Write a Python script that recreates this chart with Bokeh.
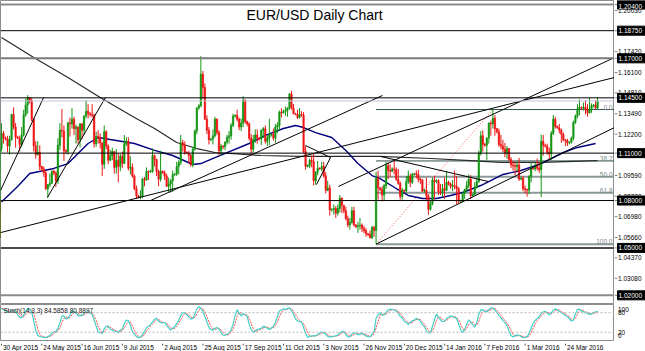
import numpy as np
from bokeh.plotting import figure
from bokeh.layouts import column, row
from bokeh.models import Range1d, ColumnDataSource, Label, LabelSet, Span
from bokeh.embed import file_html
from bokeh.resources import INLINE
from bokeh.core.properties import value

# ---------------- data (daily bars, index 0 = 30 Apr 2015, Sunday bars included) ----------------
FIRST_BAR = -18

opens = [
    1.0780, 1.0660, 1.0600, 1.0595, 1.0565, 1.0570, 1.0685, 1.0760, 1.0805, 1.0780, 1.0735, 1.0745, 1.0730, 1.0825, 1.0870, 1.0875, 1.0885, 1.0975,
    1.1130, 1.1225, 1.1195, 1.1190, 1.1145, 1.1185, 1.1345, 1.1265, 1.1200, 1.1195,
    1.1155, 1.1215, 1.1345, 1.1405, 1.1450, 1.1430, 1.1315, 1.1145, 1.1090, 1.1105,
    1.1015, 1.1000, 1.0975, 1.0875, 1.0900, 1.0910, 1.0985, 1.0975, 1.0925, 1.1150,
    1.1245, 1.1240, 1.1115, 1.1110, 1.1290, 1.1285, 1.1315, 1.1255, 1.1265, 1.1185,
    1.1285, 1.1245, 1.1335, 1.1365, 1.1350, 1.1345, 1.1340, 1.1160, 1.1205, 1.1200,
    1.1165, 1.1030, 1.1235, 1.1145, 1.1055, 1.1085, 1.1110, 1.1010, 1.1055, 1.1015,
    1.1080, 1.1035, 1.1160, 1.1175, 1.1005, 1.1010, 1.0955, 1.0875, 1.0830, 1.0822,
    1.0825, 1.0935, 1.0930, 1.0985, 1.0980, 1.0985, 1.1085, 1.1060, 1.0985, 1.0935,
    1.0985, 1.0975, 1.0955, 1.0890, 1.0905, 1.0925, 1.0965, 1.0968, 1.1015, 1.1040,
    1.1165, 1.1150, 1.1105, 1.1100, 1.1085, 1.1025, 1.1125, 1.1240, 1.1385, 1.1400,
    1.1600, 1.1515, 1.1315, 1.1245, 1.1185, 1.1190, 1.1210, 1.1315, 1.1230, 1.1115,
    1.1145, 1.1140, 1.1170, 1.1200, 1.1210, 1.1275, 1.1335, 1.1340, 1.1315, 1.1265,
    1.1290, 1.1435, 1.1300, 1.1285, 1.1195, 1.1125, 1.1185, 1.1215, 1.1195, 1.1190,
    1.1245, 1.1255, 1.1175, 1.1195, 1.1215, 1.1220, 1.1195, 1.1265, 1.1275, 1.1360,
    1.1355, 1.1365, 1.1370, 1.1385, 1.1475, 1.1385, 1.1350, 1.1345, 1.1325, 1.1345,
    1.1340, 1.1110, 1.1015, 1.1020, 1.1055, 1.1045, 1.0925, 1.0980, 1.1005, 1.1000,
    1.1015, 1.0955, 1.0865, 1.0880, 1.0740, 1.0745, 1.0750, 1.0720, 1.0750, 1.0815,
    1.0770, 1.0735, 1.0685, 1.0645, 1.0660, 1.0735, 1.0645, 1.0635, 1.0640, 1.0645,
    1.0625, 1.0610, 1.0590, 1.0585, 1.0565, 1.0630, 1.0610, 1.0940, 1.0880, 1.0870,
    1.0835, 1.0895, 1.1020, 1.0990, 1.0985, 1.1000, 1.0995, 1.0935, 1.0910, 1.0825,
    1.0865, 1.0860, 1.0920, 1.0955, 1.0915, 1.0965, 1.0970, 1.0965, 1.0935, 1.0930,
    1.0860, 1.0865, 1.0830, 1.0745, 1.0780, 1.0930, 1.0920, 1.0925, 1.0855, 1.0850,
    1.0875, 1.0865, 1.0915, 1.0905, 1.0890, 1.0895, 1.0890, 1.0875, 1.0795, 1.0800,
    1.0845, 1.0870, 1.0895, 1.0935, 1.0830, 1.0840, 1.0885, 1.0920, 1.1100, 1.1210,
    1.1155, 1.1150, 1.1195, 1.1290, 1.1285, 1.1320, 1.1255, 1.1235, 1.1155, 1.1145,
    1.1125, 1.1100, 1.1130, 1.1060, 1.1025, 1.1020, 1.1015, 1.1025, 1.0935, 1.0940,
    1.0875, 1.0870, 1.0865, 1.0955, 1.1005, 1.1000, 1.1015, 1.1005, 1.0995, 1.1175,
    1.1150, 1.1145, 1.1105, 1.1095, 1.1225, 1.1315, 1.1270, 1.1260, 1.1245, 1.1220,
    1.1185, 1.1180, 1.1165, 1.1170, 1.1195, 1.1295, 1.1335, 1.1380, 1.1390, 1.1385,
    1.1390, 1.1375, 1.1355, 1.1375, 1.1400, 1.1405, 1.1385,
]

highs = [
    1.0790, 1.0665, 1.0610, 1.0605, 1.0660, 1.0695, 1.0770, 1.0850, 1.0810, 1.0790, 1.0800, 1.0770, 1.0850, 1.0875, 1.0880, 1.0900, 1.0990, 1.1195,
    1.1290, 1.1240, 1.1205, 1.1210, 1.1210, 1.1350, 1.1390, 1.1290, 1.1210, 1.1210,
    1.1265, 1.1375, 1.1445, 1.1467, 1.1455, 1.1450, 1.1320, 1.1175, 1.1175, 1.1150,
    1.1020, 1.1015, 1.0990, 1.0905, 1.0970, 1.0990, 1.0995, 1.0985, 1.1195, 1.1290,
    1.1380, 1.1275, 1.1125, 1.1300, 1.1325, 1.1385, 1.1330, 1.1280, 1.1270, 1.1290,
    1.1290, 1.1340, 1.1436, 1.1410, 1.1360, 1.1410, 1.1350, 1.1235, 1.1245, 1.1225,
    1.1165, 1.1275, 1.1245, 1.1155, 1.1120, 1.1135, 1.1110, 1.1125, 1.1100, 1.1095,
    1.1110, 1.1215, 1.1200, 1.1200, 1.1080, 1.1035, 1.0965, 1.0895, 1.0835, 1.0865,
    1.0945, 1.0950, 1.1010, 1.0990, 1.0995, 1.1130, 1.1090, 1.1065, 1.0995, 1.1115,
    1.0990, 1.0990, 1.0970, 1.0945, 1.0935, 1.0990, 1.0975, 1.1045, 1.1055, 1.1215,
    1.1185, 1.1175, 1.1110, 1.1115, 1.1095, 1.1140, 1.1250, 1.1390, 1.1410, 1.1714,
    1.1620, 1.1540, 1.1340, 1.1265, 1.1195, 1.1250, 1.1330, 1.1320, 1.1245, 1.1160,
    1.1150, 1.1175, 1.1215, 1.1240, 1.1290, 1.1350, 1.1345, 1.1375, 1.1325, 1.1320,
    1.1460, 1.1440, 1.1305, 1.1295, 1.1220, 1.1215, 1.1250, 1.1250, 1.1200, 1.1250,
    1.1265, 1.1275, 1.1215, 1.1318, 1.1225, 1.1255, 1.1285, 1.1295, 1.1370, 1.1385,
    1.1375, 1.1395, 1.1390, 1.1480, 1.1495, 1.1410, 1.1355, 1.1375, 1.1385, 1.1365,
    1.1360, 1.1145, 1.1030, 1.1065, 1.1085, 1.1095, 1.0985, 1.1050, 1.1010, 1.1045,
    1.1045, 1.0980, 1.0925, 1.0900, 1.0750, 1.0775, 1.0765, 1.0775, 1.0835, 1.0820,
    1.0770, 1.0760, 1.0705, 1.0690, 1.0760, 1.0760, 1.0650, 1.0665, 1.0690, 1.0655,
    1.0640, 1.0625, 1.0595, 1.0610, 1.0640, 1.0640, 1.0981, 1.0990, 1.0885, 1.0890,
    1.0905, 1.1045, 1.1040, 1.1030, 1.1010, 1.1060, 1.1010, 1.1000, 1.0920, 1.0880,
    1.0870, 1.0955, 1.0990, 1.0970, 1.0975, 1.0975, 1.0990, 1.0995, 1.0945, 1.0935,
    1.0875, 1.0945, 1.0840, 1.0800, 1.0945, 1.0955, 1.0935, 1.0935, 1.0905, 1.0905,
    1.0945, 1.0985, 1.0925, 1.0915, 1.0930, 1.0990, 1.0955, 1.0885, 1.0805, 1.0855,
    1.0875, 1.0925, 1.0965, 1.0960, 1.0845, 1.0915, 1.0945, 1.1115, 1.1240, 1.1245,
    1.1165, 1.1200, 1.1295, 1.1305, 1.1376, 1.1340, 1.1260, 1.1255, 1.1215, 1.1185,
    1.1165, 1.1145, 1.1130, 1.1075, 1.1050, 1.1045, 1.1045, 1.1070, 1.0950, 1.0955,
    1.0895, 1.0875, 1.0960, 1.1040, 1.1010, 1.1040, 1.1065, 1.1045, 1.1218, 1.1215,
    1.1160, 1.1160, 1.1135, 1.1240, 1.1342, 1.1330, 1.1275, 1.1285, 1.1255, 1.1230,
    1.1190, 1.1190, 1.1175, 1.1205, 1.1305, 1.1345, 1.1410, 1.1440, 1.1395, 1.1420,
    1.1435, 1.1410, 1.1450, 1.1415, 1.1410, 1.1435, 1.1455,
]

lows = [
    1.0640, 1.0570, 1.0585, 1.0520, 1.0535, 1.0545, 1.0660, 1.0730, 1.0770, 1.0705, 1.0705, 1.0665, 1.0720, 1.0805, 1.0860, 1.0825, 1.0865, 1.0960,
    1.1110, 1.1160, 1.1180, 1.1105, 1.1090, 1.1180, 1.1250, 1.1135, 1.1190, 1.1110,
    1.1140, 1.1205, 1.1330, 1.1350, 1.1415, 1.1300, 1.1110, 1.1065, 1.1085, 1.0990,
    1.0985, 1.0950, 1.0865, 1.0819, 1.0885, 1.0905, 1.0960, 1.0885, 1.0905, 1.1120,
    1.1200, 1.1050, 1.1095, 1.1090, 1.1205, 1.1255, 1.1215, 1.1160, 1.1160, 1.1135,
    1.1190, 1.1215, 1.1320, 1.1320, 1.1330, 1.1325, 1.1135, 1.1140, 1.1160, 1.1130,
    1.0955, 1.1000, 1.1125, 1.1030, 1.1050, 1.1055, 1.0970, 1.0970, 1.0915, 1.0985,
    1.1005, 1.1030, 1.1145, 1.0990, 1.0965, 1.0945, 1.0865, 1.0810, 1.0815, 1.0808,
    1.0815, 1.0890, 1.0925, 1.0930, 1.0975, 1.0975, 1.1015, 1.0955, 1.0890, 1.0920,
    1.0970, 1.0930, 1.0885, 1.0850, 1.0850, 1.0855, 1.0955, 1.0955, 1.0965, 1.1025,
    1.1110, 1.1090, 1.1095, 1.1040, 1.1015, 1.1010, 1.1115, 1.1220, 1.1375, 1.1390,
    1.1445, 1.1310, 1.1220, 1.1155, 1.1175, 1.1155, 1.1200, 1.1215, 1.1085, 1.1085,
    1.1125, 1.1120, 1.1155, 1.1160, 1.1185, 1.1265, 1.1325, 1.1300, 1.1245, 1.1240,
    1.1265, 1.1285, 1.1270, 1.1180, 1.1090, 1.1105, 1.1165, 1.1160, 1.1180, 1.1150,
    1.1195, 1.1160, 1.1145, 1.1150, 1.1205, 1.1180, 1.1165, 1.1225, 1.1245, 1.1325,
    1.1350, 1.1335, 1.1330, 1.1375, 1.1375, 1.1345, 1.1340, 1.1315, 1.1320, 1.1330,
    1.1100, 1.0995, 1.1010, 1.1005, 1.1010, 1.0895, 1.0900, 1.0960, 1.0995, 1.0985,
    1.0945, 1.0845, 1.0860, 1.0705, 1.0730, 1.0710, 1.0690, 1.0705, 1.0725, 1.0720,
    1.0720, 1.0675, 1.0630, 1.0615, 1.0655, 1.0635, 1.0625, 1.0595, 1.0615, 1.0600,
    1.0595, 1.0570, 1.0575, 1.0560, 1.0555, 1.0570, 1.0524, 1.0805, 1.0860, 1.0795,
    1.0800, 1.0875, 1.0935, 1.0950, 1.0980, 1.0965, 1.0925, 1.0900, 1.0805, 1.0805,
    1.0850, 1.0850, 1.0905, 1.0885, 1.0905, 1.0960, 1.0940, 1.0915, 1.0905, 1.0855,
    1.0850, 1.0800, 1.0710, 1.0735, 1.0770, 1.0805, 1.0910, 1.0835, 1.0835, 1.0825,
    1.0810, 1.0860, 1.0895, 1.0875, 1.0860, 1.0870, 1.0775, 1.0780, 1.0785, 1.0790,
    1.0810, 1.0855, 1.0880, 1.0810, 1.0825, 1.0835, 1.0875, 1.0910, 1.1085, 1.1110,
    1.1140, 1.1055, 1.1160, 1.1210, 1.1255, 1.1210, 1.1225, 1.1140, 1.1125, 1.1105,
    1.1075, 1.1065, 1.1050, 1.1005, 1.0990, 1.0960, 1.0985, 1.0925, 1.0930, 1.0860,
    1.0845, 1.0825, 1.0840, 1.0915, 1.0995, 1.0985, 1.0990, 1.0975, 1.0822, 1.1085,
    1.1135, 1.1090, 1.1055, 1.1055, 1.1215, 1.1255, 1.1255, 1.1225, 1.1165, 1.1175,
    1.1145, 1.1145, 1.1155, 1.1160, 1.1180, 1.1285, 1.1320, 1.1340, 1.1375, 1.1370,
    1.1345, 1.1330, 1.1350, 1.1355, 1.1390, 1.1380, 1.1375,
]

closes = [
    1.0660, 1.0600, 1.0595, 1.0565, 1.0570, 1.0685, 1.0760, 1.0805, 1.0780, 1.0735, 1.0745, 1.0730, 1.0825, 1.0870, 1.0875, 1.0885, 1.0975, 1.1130,
    1.1225, 1.1195, 1.1190, 1.1145, 1.1185, 1.1345, 1.1265, 1.1200, 1.1195, 1.1155,
    1.1215, 1.1345, 1.1405, 1.1450, 1.1430, 1.1315, 1.1145, 1.1090, 1.1105, 1.1015,
    1.1000, 1.0975, 1.0875, 1.0900, 1.0910, 1.0985, 1.0975, 1.0925, 1.1150, 1.1245,
    1.1240, 1.1115, 1.1110, 1.1290, 1.1285, 1.1315, 1.1255, 1.1265, 1.1185, 1.1285,
    1.1245, 1.1335, 1.1365, 1.1350, 1.1345, 1.1340, 1.1160, 1.1205, 1.1200, 1.1165,
    1.1030, 1.1235, 1.1145, 1.1055, 1.1085, 1.1110, 1.1010, 1.1055, 1.1015, 1.1080,
    1.1035, 1.1160, 1.1175, 1.1005, 1.1010, 1.0955, 1.0875, 1.0830, 1.0822, 1.0825,
    1.0935, 1.0930, 1.0985, 1.0980, 1.0985, 1.1085, 1.1060, 1.0985, 1.0935, 1.0985,
    1.0975, 1.0955, 1.0890, 1.0905, 1.0925, 1.0965, 1.0968, 1.1015, 1.1040, 1.1165,
    1.1150, 1.1105, 1.1100, 1.1085, 1.1025, 1.1125, 1.1240, 1.1385, 1.1400, 1.1600,
    1.1515, 1.1315, 1.1245, 1.1185, 1.1190, 1.1210, 1.1315, 1.1230, 1.1115, 1.1145,
    1.1140, 1.1170, 1.1200, 1.1210, 1.1275, 1.1335, 1.1340, 1.1315, 1.1265, 1.1290,
    1.1435, 1.1300, 1.1285, 1.1195, 1.1125, 1.1185, 1.1215, 1.1195, 1.1190, 1.1245,
    1.1255, 1.1175, 1.1195, 1.1215, 1.1220, 1.1195, 1.1265, 1.1275, 1.1360, 1.1355,
    1.1365, 1.1370, 1.1385, 1.1475, 1.1385, 1.1350, 1.1345, 1.1325, 1.1345, 1.1340,
    1.1110, 1.1015, 1.1020, 1.1055, 1.1045, 1.0925, 1.0980, 1.1005, 1.1000, 1.1015,
    1.0955, 1.0865, 1.0880, 1.0740, 1.0745, 1.0750, 1.0720, 1.0750, 1.0815, 1.0770,
    1.0735, 1.0685, 1.0645, 1.0660, 1.0735, 1.0645, 1.0635, 1.0640, 1.0645, 1.0625,
    1.0610, 1.0590, 1.0585, 1.0565, 1.0630, 1.0610, 1.0940, 1.0880, 1.0870, 1.0835,
    1.0895, 1.1020, 1.0990, 1.0985, 1.1000, 1.0995, 1.0935, 1.0910, 1.0825, 1.0865,
    1.0860, 1.0920, 1.0955, 1.0915, 1.0965, 1.0970, 1.0965, 1.0935, 1.0930, 1.0860,
    1.0865, 1.0830, 1.0745, 1.0780, 1.0930, 1.0920, 1.0925, 1.0855, 1.0850, 1.0875,
    1.0865, 1.0915, 1.0905, 1.0890, 1.0895, 1.0890, 1.0875, 1.0795, 1.0800, 1.0845,
    1.0870, 1.0895, 1.0935, 1.0830, 1.0840, 1.0885, 1.0920, 1.1100, 1.1210, 1.1155,
    1.1150, 1.1195, 1.1290, 1.1285, 1.1320, 1.1255, 1.1235, 1.1155, 1.1145, 1.1125,
    1.1100, 1.1130, 1.1060, 1.1025, 1.1020, 1.1015, 1.1025, 1.0935, 1.0940, 1.0875,
    1.0870, 1.0865, 1.0955, 1.1005, 1.1000, 1.1015, 1.1005, 1.0995, 1.1175, 1.1150,
    1.1145, 1.1105, 1.1095, 1.1225, 1.1315, 1.1270, 1.1260, 1.1245, 1.1220, 1.1185,
    1.1180, 1.1165, 1.1170, 1.1195, 1.1295, 1.1335, 1.1380, 1.1390, 1.1385, 1.1390,
    1.1375, 1.1355, 1.1375, 1.1400, 1.1405, 1.1385, 1.1430,
]

date_label_bars = [0, 20, 40, 60, 80, 100, 120, 140, 160, 180, 200, 220, 240, 260, 280]
date_labels = ["30 Apr 2015", "24 May 2015", "16 Jun 2015", "9 Jul 2015", "2 Aug 2015",
               "25 Aug 2015", "17 Sep 2015", "11 Oct 2015", "3 Nov 2015", "26 Nov 2015",
               "20 Dec 2015", "14 Jan 2016", "7 Feb 2016", "1 Mar 2016", "24 Mar 2016"]

price_ticks = [1.2003, 1.1742, 1.1610, 1.1481, 1.1349, 1.1220, 1.0959, 1.0827,
               1.0698, 1.0566, 1.0437, 1.0308]
level_prices = [1.2040, 1.1875, 1.1700, 1.1450, 1.1100, 1.0800, 1.0500, 1.0200]

ma50_bars = [0, 8, 14, 26, 33, 43, 48, 54, 66, 76, 85, 95, 99, 106, 123, 131, 140, 146, 150,
             156, 164, 171, 177, 184, 188, 196, 202, 209, 216, 223, 229, 238, 249, 258, 268,
             279, 286, 295]
ma50_vals = [1.0790, 1.0889, 1.0971, 1.1003, 1.1034, 1.1161, 1.1199, 1.1186, 1.1161, 1.1117,
             1.1085, 1.1028, 1.1034, 1.1072, 1.1161, 1.1212, 1.1256, 1.1275, 1.1262, 1.1230,
             1.1199, 1.1117, 1.1034, 1.0958, 1.0939, 1.0876, 1.0832, 1.0813, 1.0813, 1.0832,
             1.0851, 1.0895, 1.0965, 1.0990, 1.1034, 1.1104, 1.1136, 1.1161]

ma200_bars = [0, 16, 33, 49, 66, 76, 87, 97, 106, 129, 149, 168, 188, 213, 233, 248, 268, 296]
ma200_vals = [1.1832, 1.1705, 1.1579, 1.1452, 1.1325, 1.1256, 1.1167, 1.1129, 1.1104, 1.1085,
              1.1079, 1.1079, 1.1079, 1.1066, 1.1053, 1.1041, 1.1041, 1.1053]

trend_bar0 = [-0.5, 22.8, -0.5, 74.0, 167.3, 186.0, 188.2, 151.0, 156.4]
trend_price0 = [1.0863, 1.0819, 1.0597, 1.0800, 1.0889, 1.0524, 1.1079, 1.1148, 1.0901]
trend_bar1 = [20.9, 51.6, 304.4, 189.2, 304.4, 304.4, 241.8, 163.4, 163.4]
trend_price1 = [1.1452, 1.1452, 1.1579, 1.1465, 1.1705, 1.1262, 1.0920, 1.1072, 1.1072]

fib_bar0, fib_bar1 = 186, 244
fib_low, fib_high = 1.0524, 1.1376
fib_levels = [0.0, 38.2, 50.0, 61.8, 100.0]

stoch_levels = [80, 20]
stoch_axis_values = [100, 80, 20, 0]
stoch_text = "Stoch(14,3,3) 84.5858 80.8897"
title_text = "EUR/USD Daily Chart"

# ---------------- derived ----------------
n = len(closes)
assert len(opens) == n and len(highs) == n and len(lows) == n, (len(opens), len(highs), len(lows), n)
bars = np.arange(n) + FIRST_BAR
o = np.array(opens); h = np.array(highs); l = np.array(lows); c = np.array(closes)
UP, DN = "#139613", "#ee1515"
cols = np.where(c >= o, UP, DN)
src = ColumnDataSource(dict(x=bars, h=h, l=l, top=np.maximum(o, c), bot=np.minimum(o, c), col=cols))

FONT = "Liberation Sans"
FS = "6.5px"
xr = Range1d(-0.5, 304.4)
yr = Range1d(1.0142, 1.2066)


def bare(fig):
    fig.xgrid.grid_line_color = None
    fig.ygrid.grid_line_color = None
    fig.border_fill_color = "white"
    fig.background_fill_color = "white"
    return fig


common = dict(output_backend="svg", toolbar_location=None, x_axis_location=None,
              y_axis_location=None, min_border_left=0, min_border_right=0,
              min_border_top=0, min_border_bottom=0)

# ---------------- main price panel ----------------
p = bare(figure(width=614, height=304, x_range=xr, y_range=yr, **common))
p.outline_line_color = "#8c8c8c"

level_colors = ["#8a8a8a", "#000000", "#7a7a7a", "#000000", "#000000", "#000000", "#4a4a4a", "#8a8a8a"]
level_widths = [2, 1, 2, 1, 1, 1, 2, 2]
for v, lc, lw in zip(level_prices, level_colors, level_widths):
    p.add_layout(Span(location=v, dimension="width", line_color=lc, line_width=lw))
p.add_layout(Span(location=closes[-1], dimension="width", line_color="#c4c4dc", line_width=1))

fib_prices = [fib_high - lv / 100.0 * (fib_high - fib_low) for lv in fib_levels]
fib_colors = ["#2f4f4f", "#2f4f4f", "#8c9898", "#8c9898", "#8c9898"]
fib_widths = [1, 1, 2, 2, 2]
p.ray(x=[fib_bar0] * len(fib_prices), y=fib_prices, length=0, angle=0,
      line_color=fib_colors, line_width=fib_widths)
p.line([fib_bar0, fib_bar1], [fib_low, fib_high], line_color="#ff5050", line_dash="1 2", line_width=1)
fib_src = ColumnDataSource(dict(y=fib_prices, text=["%.1f" % lv for lv in fib_levels]))
p.add_layout(LabelSet(x=612, y="y", x_units="screen", text="text", source=fib_src,
                      text_align="right", text_baseline="bottom",
                      text_font=value(FONT), text_font_size=FS, text_color="#7a8a8a"))

p.line(ma200_bars, ma200_vals, line_color="#2a2a2a", line_width=1.2)
p.line(ma50_bars, ma50_vals, line_color="#000080", line_width=1.4)

p.segment(x0="x", y0="l", x1="x", y1="h", line_color="col", line_width=1, source=src)
p.vbar(x="x", top="top", bottom="bot", width=0.7, fill_color="col", line_color="col",
       line_width=0.6, source=src)

p.segment(x0=trend_bar0, y0=trend_price0, x1=trend_bar1, y1=trend_price1,
          line_color="black", line_width=1)

p.add_layout(Label(x=314, y=298, x_units="screen", y_units="screen", text=title_text,
                   text_align="center", text_baseline="top", text_font=FONT,
                   text_font_size="14px", text_color="black"))

# ---------------- price scale (right strip) ----------------
pa = bare(figure(width=31, height=304, x_range=Range1d(0, 31), y_range=yr, **common))
pa.outline_line_color = None
all_ticks = price_ticks + level_prices
pa.segment(x0=[0] * len(all_ticks), y0=all_ticks, x1=[3] * len(all_ticks), y1=all_ticks,
           line_color="#808080", line_width=1)
pa.text(x=[3.5] * len(price_ticks), y=price_ticks, text=["%.5f" % v for v in price_ticks],
        text_font=value(FONT), text_font_size=FS, text_baseline="middle", text_align="left",
        text_color="black")
pa.rect(x=[17] * len(level_prices), y=level_prices, width=28, height=9,
        width_units="screen", height_units="screen", fill_color="black", line_color="black")
level_text_offsets = [1.5, 0, 0, 0, 0, 0, 0, 0]
pa.text(x=[4] * len(level_prices), y=level_prices, text=["%.5f" % v for v in level_prices],
        y_offset=level_text_offsets,
        text_font=value(FONT), text_font_size=FS, text_baseline="middle", text_align="left",
        text_color="white")

# ---------------- stochastic (14,3,3) ----------------
ll = np.array([l[max(0, i - 13):i + 1].min() for i in range(n)])
hh = np.array([h[max(0, i - 13):i + 1].max() for i in range(n)])
k = np.full(n, np.nan)
for i in range(15, n):
    k[i] = 100.0 * (c[i - 2:i + 1] - ll[i - 2:i + 1]).sum() / (hh[i - 2:i + 1] - ll[i - 2:i + 1]).sum()
d = np.full(n, np.nan)
for i in range(17, n):
    d[i] = k[i - 2:i + 1].mean()
vis = bars >= -1

syr = Range1d(-8.4, 105.3)
p2 = bare(figure(width=614, height=37, x_range=xr, y_range=syr, **common))
p2.outline_line_color = "#8c8c8c"
for lv in stoch_levels:
    p2.add_layout(Span(location=lv, dimension="width", line_color="#b4b4b4", line_dash="2 2", line_width=1))
p2.line(bars[vis], d[vis], line_color="#ff4a4a", line_dash="2 1", line_width=1)
p2.line(bars[vis], k[vis], line_color="#40d0c8", line_width=1.2)
p2.add_layout(Label(x=3, y=35, x_units="screen", y_units="screen", text=stoch_text,
                    text_baseline="top", text_font=FONT, text_font_size=FS, text_color="#202020"))

p2a = bare(figure(width=31, height=37, x_range=Range1d(0, 31), y_range=syr, **common))
p2a.outline_line_color = None
stoch_text_offsets = [3, 0, 0, -3]
p2a.text(x=[3.5] * len(stoch_axis_values), y=stoch_axis_values, y_offset=stoch_text_offsets,
         text=[str(v) for v in stoch_axis_values], text_font=value(FONT), text_font_size=FS,
         text_baseline="middle", text_align="left", text_color="black")

# ---------------- date strip ----------------
p3 = bare(figure(width=645, height=10, x_range=Range1d(-0.5, 319.75), y_range=Range1d(0, 10), **common))
p3.outline_line_color = None
p3.segment(x0=date_label_bars, y0=[10] * len(date_label_bars), x1=date_label_bars,
           y1=[8] * len(date_label_bars), line_color="#505050", line_width=1)
p3.text(x=date_label_bars, y=[9.6] * len(date_label_bars), text=date_labels, x_offset=1.5,
        text_font=value(FONT), text_font_size=FS, text_baseline="top", text_align="left",
        text_color="black")

layout = column(row(p, pa, spacing=0), row(p2, p2a, spacing=0), p3, spacing=0)
open("out.html", "w").write(file_html(layout, INLINE))
